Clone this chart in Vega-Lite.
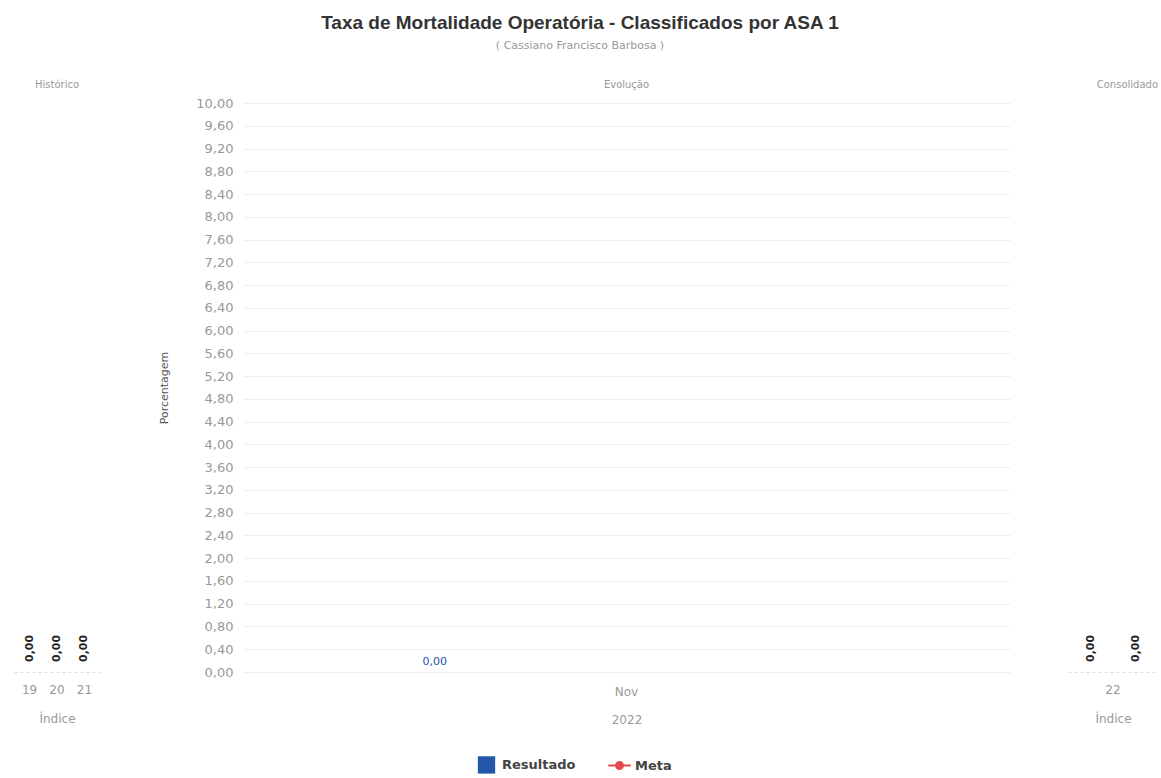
{
  "$schema": "https://vega.github.io/schema/vega-lite/v6.json",
  "background": "white",
  "padding": {"left": 14, "top": 14, "right": 2, "bottom": 2},
  "title": {
    "text": "Taxa de Mortalidade Operatória - Classificados por ASA 1",
    "subtitle": "( Cassiano Francisco Barbosa )",
    "anchor": "start",
    "align": "center",
    "dx": 566,
    "frame": "bounds",
    "font": "Liberation Sans",
    "fontSize": 19,
    "fontWeight": "bold",
    "color": "#333333",
    "subtitleFont": "DejaVu Sans",
    "subtitleFontSize": 11,
    "subtitleColor": "#999999",
    "subtitlePadding": 7,
    "offset": 29
  },
  "config": {
    "font": "DejaVu Sans",
    "view": {"stroke": null},
    "locale": {"number": {"decimal": ",", "thousands": ".", "grouping": [3], "currency": ["R$ ", ""]}},
    "axis": {"labelColor": "#999999", "titleColor": "#999999", "titleFontWeight": "normal", "labelFont": "DejaVu Sans", "titleFont": "DejaVu Sans"}
  },
  "resolve": {"scale": {"x": "independent", "xOffset": "independent", "y": "independent", "color": "independent"}},
  "datasets": {
    "historico": [
      {"ano": "19", "serie": "Resultado", "valor": 0},
      {"ano": "20", "serie": "Resultado", "valor": 0},
      {"ano": "21", "serie": "Resultado", "valor": 0}
    ],
    "evolucao": [
      {"mes": "Nov", "serie": "Resultado", "valor": 0},
      {"mes": "Nov", "serie": "Meta", "valor": null}
    ],
    "consolidado": [
      {"ano": "22", "serie": "Resultado", "valor": 0},
      {"ano": "22", "serie": "Meta", "valor": 0}
    ]
  },
  "spacing": 58,
  "hconcat": [
    {
      "width": 86,
      "height": 569,
      "title": {"text": "Histórico", "font": "DejaVu Sans", "fontSize": 10, "fontWeight": "normal", "color": "#999999", "anchor": "middle", "offset": 13},
      "data": {"name": "historico"},
      "encoding": {
        "x": {
          "field": "ano", "type": "nominal",
          "scale": {"paddingInner": 0.2, "paddingOuter": 0.17},
          "axis": {"title": "Índice", "labelAngle": 0, "ticks": false, "domainColor": "#dddddd", "domainDash": [3, 3], "labelFontSize": 12, "titleFontSize": 12, "labelPadding": 12, "titlePadding": 18}
        },
        "y": {"field": "valor", "type": "quantitative", "scale": {"domain": [0, 10]}, "axis": null}
      },
      "layer": [
        {"mark": {"type": "bar", "color": "#2356a8"}},
        {
          "mark": {"type": "text", "angle": 270, "align": "left", "baseline": "middle", "dx": 10, "fontWeight": "bold", "fontSize": 11, "color": "#222222"},
          "encoding": {"text": {"field": "valor", "type": "quantitative", "format": ".2f"}}
        }
      ]
    },
    {
      "width": 767,
      "height": 569,
      "title": {"text": "Evolução", "font": "DejaVu Sans", "fontSize": 10, "fontWeight": "normal", "color": "#999999", "anchor": "middle", "offset": 7},
      "data": {"name": "evolucao"},
      "encoding": {
        "x": {
          "field": "mes", "type": "nominal",
          "scale": {"paddingInner": 0, "paddingOuter": 0},
          "axis": {"title": "2022", "labelAngle": 0, "ticks": false, "domainColor": "#eeeeee", "labelFontSize": 12, "titleFontSize": 12, "labelPadding": 14, "titlePadding": 17}
        },
        "xOffset": {"field": "serie", "type": "nominal", "scale": {"domain": ["Resultado", "Meta"]}},
        "y": {
          "field": "valor", "type": "quantitative",
          "scale": {"domain": [0, 10]},
          "axis": {
            "title": "Porcentagem",
            "values": [0, 0.4, 0.8, 1.2, 1.6, 2, 2.4, 2.8, 3.2, 3.6, 4, 4.4, 4.8, 5.2, 5.6, 6, 6.4, 6.8, 7.2, 7.6, 8, 8.4, 8.8, 9.2, 9.6, 10],
            "format": ".2f",
            "grid": true, "gridColor": "#eeeeee",
            "domain": false, "ticks": false,
            "labelFontSize": 13, "labelPadding": 10,
            "titleFontSize": 11, "titleColor": "#555555", "titlePadding": 26
          }
        }
      },
      "layer": [
        {
          "mark": {"type": "bar"},
          "encoding": {
            "color": {
              "field": "serie", "type": "nominal",
              "scale": {"domain": ["Resultado", "Meta"], "range": ["#2356a8", "#e5484d"]},
              "legend": {
                "orient": "none",
                "legendX": 237,
                "legendY": 655,
                "direction": "horizontal",
                "title": null,
                "labelFont": "DejaVu Sans",
                "labelFontSize": 13,
                "labelFontWeight": "bold",
                "labelColor": "#444444",
                "labelOffset": 9,
                "symbolSize": 300,
                "columnPadding": 28,
                "encode": {
                  "symbols": {
                    "update": {
                      "shape": {"signal": "datum.value === 'Meta' ? 'M-1.3,0H1.3M0.4,0A0.4,0.4,0,1,1,-0.4,0A0.4,0.4,0,1,1,0.4,0' : 'square'"},
                      "stroke": {"signal": "datum.value === 'Meta' ? '#e5484d' : '#2356a8'"},
                      "strokeWidth": {"signal": "datum.value === 'Meta' ? 2 : 0"}
                    }
                  }
                }
              }
            }
          }
        },
        {
          "transform": [{"filter": "datum.valor != null"}],
          "mark": {"type": "text", "dy": -10, "color": "#2356a8", "fontSize": 11},
          "encoding": {"text": {"field": "valor", "type": "quantitative", "format": ".2f"}}
        }
      ]
    },
    {
      "width": 90,
      "height": 569,
      "title": {"text": "Consolidado", "font": "DejaVu Sans", "fontSize": 10, "fontWeight": "normal", "color": "#999999", "anchor": "end", "offset": 13},
      "data": {"name": "consolidado"},
      "encoding": {
        "x": {
          "field": "ano", "type": "nominal",
          "scale": {"paddingInner": 0, "paddingOuter": 0},
          "axis": {"title": "Índice", "labelAngle": 0, "ticks": false, "domainColor": "#dddddd", "domainDash": [3, 3], "labelFontSize": 12, "titleFontSize": 12, "labelPadding": 12, "titlePadding": 18}
        },
        "xOffset": {"field": "serie", "type": "nominal", "scale": {"domain": ["Resultado", "Meta"]}},
        "y": {"field": "valor", "type": "quantitative", "scale": {"domain": [0, 10]}, "axis": null}
      },
      "layer": [
        {"mark": {"type": "bar", "color": "#2356a8"}},
        {
          "mark": {"type": "text", "angle": 270, "align": "left", "baseline": "middle", "dx": 10, "fontWeight": "bold", "fontSize": 11, "color": "#222222"},
          "encoding": {"text": {"field": "valor", "type": "quantitative", "format": ".2f"}}
        }
      ]
    }
  ]
}
